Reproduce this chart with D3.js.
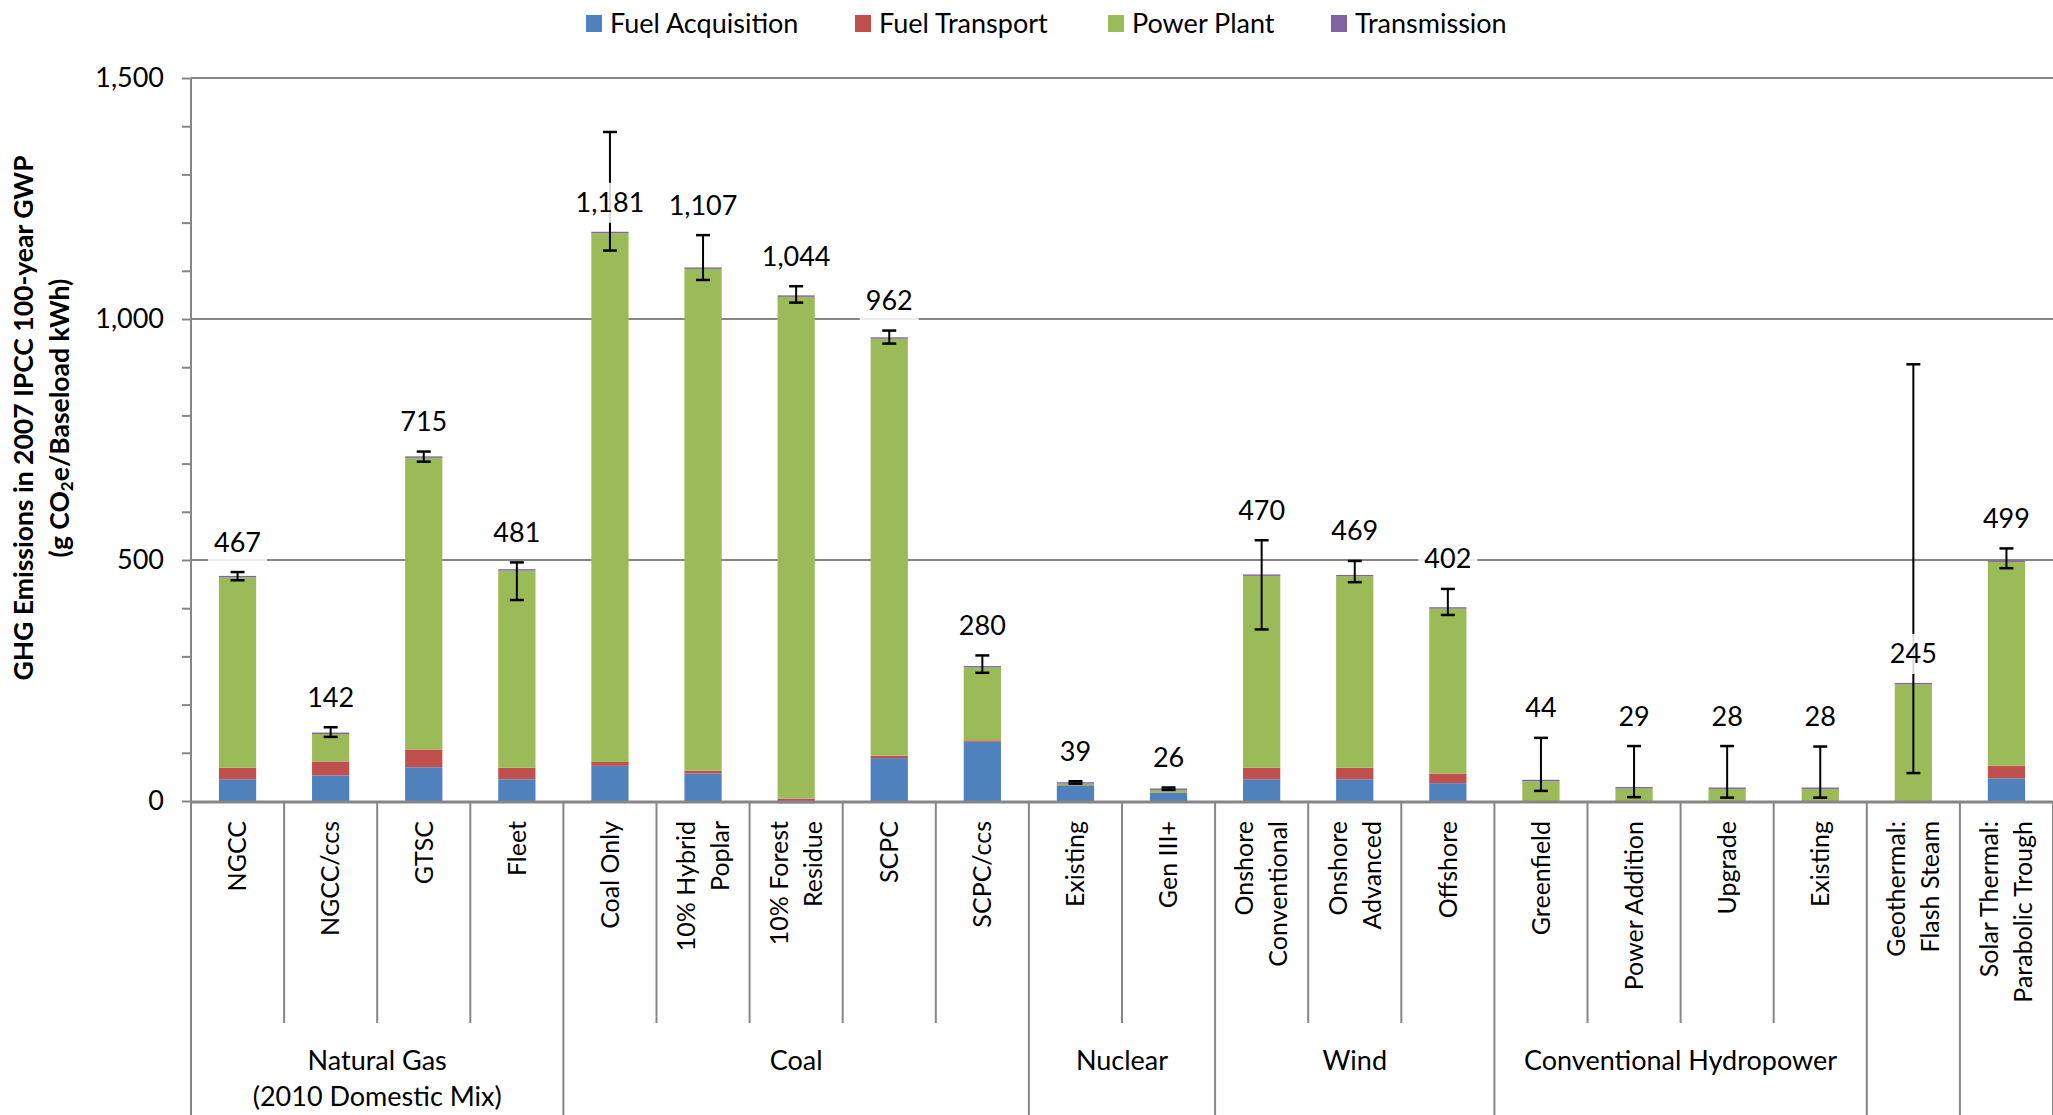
<!DOCTYPE html>
<html>
<head>
<meta charset="utf-8">
<script src="https://cdn.jsdelivr.net/npm/d3@7"></script>
<style>
  html, body { margin: 0; padding: 0; background: #fff; }
  svg { display: block; }
  text { font-family: Lato, "Open Sans", sans-serif; fill: #000; }
</style>
</head>
<body>
<svg id="chart" width="2053" height="1115"></svg>
<script>
// Life-cycle greenhouse gas emissions by power technology (g CO2e per baseload kWh)
const categories = [
  "NGCC", "NGCC/ccs", "GTSC", "Fleet",
  "Coal Only", "10% Hybrid\nPoplar", "10% Forest\nResidue", "SCPC", "SCPC/ccs",
  "Existing", "Gen III+",
  "Onshore\nConventional", "Onshore\nAdvanced", "Offshore",
  "Greenfield", "Power Addition", "Upgrade", "Existing",
  "Geothermal:\nFlash Steam", "Solar Thermal:\nParabolic Trough"
];

const groupNames = ["Natural Gas\n(2010 Domestic Mix)", "Coal", "Nuclear", "Wind", "Conventional Hydropower", "", ""];
const groupSizes = [4, 5, 2, 3, 4, 1, 1];

const seriesNames = ["Fuel Acquisition", "Fuel Transport", "Power Plant", "Transmission"];
const fuelAcquisition = [45, 53, 70, 45, 73, 57, -5, 89, 123, 32, 17, 45, 45, 37, 0, 0, 0, 0, 0, 47];
const fuelTransport   = [24, 29, 37, 24, 8, 6, 5, 5, 3, 1, 1, 24, 24, 20, 0, 0, 0, 0, 0, 26];
const powerPlant      = [395, 57, 605, 409, 1097, 1041, 1041, 865, 151, 3, 5, 398, 397, 342, 41, 26, 25, 25, 242, 423];
const transmission    = [3, 3, 3, 3, 3, 3, 3, 3, 3, 3, 3, 3, 3, 3, 3, 3, 3, 3, 3, 3];

// Uncertainty range (low, high) for each technology
const errLow  = [458, 133, 704, 417, 1142, 1081, 1034, 949, 266, 36, 23, 356, 454, 386, 21, 8, 7, 7, 58, 483];
const errHigh = [475, 153, 725, 495, 1388, 1174, 1068, 976, 302, 41, 28, 541, 498, 440, 131, 114, 114, 113, 906, 524];

const yTicks = [0, 500, 1000, 1500];

const colors = ["#4F81BD", "#C0504D", "#9BBB59", "#8064A2"];
const gray = "#868686";
const fs = "27px";

const svg = d3.select("#chart");

const plotLeft = 191, plotRight = 2053, plotTop = 78, plotBottom = 801;

const x = d3.scaleBand().domain(d3.range(categories.length)).range([plotLeft, plotRight]).padding(0);
const y = d3.scaleLinear().domain([0, 1500]).range([plotBottom, plotTop]);
const barW = x.bandwidth() * 0.4;

const rows = categories.map((c, i) => ({
  i,
  "Fuel Acquisition": fuelAcquisition[i],
  "Fuel Transport": fuelTransport[i],
  "Power Plant": powerPlant[i],
  "Transmission": transmission[i]
}));
const totals = rows.map(r => d3.sum(seriesNames, k => r[k]));

const stack = d3.stack().keys(seriesNames).offset(d3.stackOffsetDiverging);
const layers = stack(rows);

// Gridlines at major ticks
svg.append("g").selectAll("line")
  .data(yTicks.filter(t => t > 0))
  .join("line")
  .attr("x1", plotLeft).attr("x2", plotRight)
  .attr("y1", d => y(d)).attr("y2", d => y(d))
  .attr("stroke", gray).attr("stroke-width", 2);

// Y axis with minor ticks every 100
const yAxis = d3.axisLeft(y).tickValues(d3.range(0, 1501, 100)).tickSize(9).tickFormat("");
const yg = svg.append("g").attr("transform", `translate(${plotLeft},0)`).call(yAxis);
yg.select(".domain").remove();
yg.selectAll(".tick line").attr("stroke", gray).attr("stroke-width", 2);

svg.append("g").selectAll("text")
  .data(yTicks)
  .join("text")
  .attr("x", 164).attr("y", d => y(d))
  .attr("dy", "0.35em")
  .attr("text-anchor", "end")
  .style("font-size", fs)
  .text(d => d3.format(",")(d));

// Stacked bars
svg.append("g").selectAll("g")
  .data(layers)
  .join("g")
  .attr("fill", (d, i) => colors[i])
  .selectAll("rect")
  .data(d => d)
  .join("rect")
  .attr("x", d => x(d.data.i) + (x.bandwidth() - barW) / 2)
  .attr("width", barW)
  .attr("y", d => y(Math.max(d[0], d[1])))
  .attr("height", d => Math.abs(y(d[0]) - y(d[1])));

// Error bars
const eb = svg.append("g").attr("stroke", "#000");
categories.forEach((c, i) => {
  const cx = x(i) + x.bandwidth() / 2;
  eb.append("line").attr("x1", cx).attr("x2", cx).attr("y1", y(errLow[i])).attr("y2", y(errHigh[i])).attr("stroke-width", 2);
  [errLow[i], errHigh[i]].forEach(v => {
    eb.append("line").attr("x1", cx - 7).attr("x2", cx + 7).attr("y1", y(v)).attr("y2", y(v)).attr("stroke-width", 2.5);
  });
});

// Total labels, sitting above the error bar unless the range is very wide
const lg = svg.append("g");
categories.forEach((c, i) => {
  const cx = x(i) + x.bandwidth() / 2;
  const spread = errHigh[i] - totals[i];
  const anchor = spread > 150 ? totals[i] : Math.max(totals[i], errHigh[i]);
  const cy = y(anchor) - (spread > 150 ? 29 : 30);
  const g = lg.append("g");
  const t = g.append("text")
    .attr("x", cx).attr("y", cy).attr("dy", "0.35em")
    .attr("text-anchor", "middle")
    .style("font-size", fs)
    .text(d3.format(",")(totals[i]));
  const bb = t.node().getBBox();
  g.insert("rect", "text")
    .attr("x", bb.x - 6).attr("width", bb.width + 12)
    .attr("y", cy - 20).attr("height", 40)
    .attr("fill", "#fff").attr("fill-opacity", 0.85);
});

// Category axis: baseline, separators and labels
const axisG = svg.append("g");
axisG.append("line").attr("x1", plotLeft).attr("x2", plotRight).attr("y1", plotBottom + 1).attr("y2", plotBottom + 1)
  .attr("stroke", gray).attr("stroke-width", 3);

const groupStarts = [];
let acc = 0;
groupSizes.forEach(s => { groupStarts.push(acc); acc += s; });

for (let i = 0; i <= categories.length; i++) {
  const xx = i < categories.length ? x(i) : plotRight;
  const isGroup = groupStarts.includes(i) || i === categories.length;
  axisG.append("line")
    .attr("x1", xx).attr("x2", xx)
    .attr("y1", plotBottom).attr("y2", isGroup ? 1115 : 1023)
    .attr("stroke", gray).attr("stroke-width", 2);
}
// Left axis line
axisG.append("line").attr("x1", plotLeft).attr("x2", plotLeft).attr("y1", plotTop).attr("y2", 1115)
  .attr("stroke", gray).attr("stroke-width", 2);

categories.forEach((c, i) => {
  const cx = x(i) + x.bandwidth() / 2;
  const lines = c.split("\n");
  const lh = 34;
  lines.forEach((ln, k) => {
    const off = (k - (lines.length - 1) / 2) * lh;
    axisG.append("text")
      .attr("transform", `translate(${cx + off},821) rotate(-90)`)
      .attr("dy", "0.35em")
      .attr("text-anchor", "end")
      .style("font-size", "25px")
      .text(ln);
  });
});

groupNames.forEach((g, gi) => {
  if (!g) return;
  const s = groupStarts[gi];
  const x0 = x(s), x1 = s + groupSizes[gi] < categories.length ? x(s + groupSizes[gi]) : plotRight;
  const cx = (x0 + x1) / 2;
  g.split("\n").forEach((ln, k) => {
    axisG.append("text")
      .attr("x", cx).attr("y", 1061 + k * 36).attr("dy", "0.35em")
      .attr("text-anchor", "middle")
      .style("font-size", fs)
      .text(ln);
  });
});

// Y axis title
const title = svg.append("text")
  .attr("transform", "translate(24,418) rotate(-90)")
  .attr("text-anchor", "middle")
  .style("font-size", "26.5px").style("font-weight", "bold");
title.append("tspan").attr("x", 0).attr("dy", "0.35em").text("GHG Emissions in 2007 IPCC 100-year GWP");
const t2 = svg.append("text")
  .attr("transform", "translate(60,418) rotate(-90)")
  .attr("text-anchor", "middle")
  .style("font-size", "26.5px").style("font-weight", "bold")
  .attr("dy", "0.35em");
t2.append("tspan").text("(g CO");
t2.append("tspan").style("font-size", "17px").attr("dy", "4").text("2");
t2.append("tspan").attr("dy", "-4").text("e/Baseload kWh)");

// Legend
const legendX = [586, 855, 1108, 1331];
const leg = svg.append("g");
seriesNames.forEach((n, i) => {
  leg.append("rect").attr("x", legendX[i]).attr("y", 15).attr("width", 16).attr("height", 17).attr("fill", colors[i]);
  leg.append("text").attr("x", legendX[i] + 24).attr("y", 24).attr("dy", "0.35em")
    .style("font-size", fs).text(n);
});
</script>
</body>
</html>
